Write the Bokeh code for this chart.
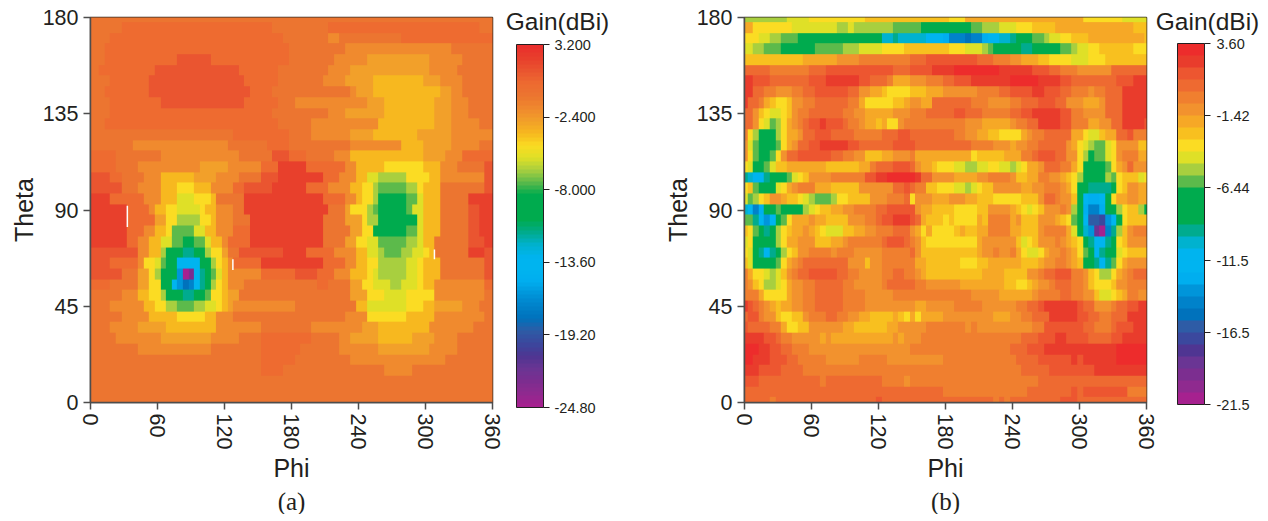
from bokeh.plotting import figure
from bokeh.layouts import row
from bokeh.core.properties import value
from bokeh.models import (AllLabels, ColorBar, FixedTicker, LinearColorMapper, Range1d, Title)
from bokeh.embed import file_html
from bokeh.resources import INLINE
import numpy as np

CODES = "0123456789abcdefghijklmnopqrst"

COLORS_B = ["#ed2c2c", "#e93c2c", "#ed5630", "#ee6a31", "#f07f2f", "#f2922e", "#f6a826", "#f8c01f",
            "#fbdc23", "#dfe027", "#a8cf3f", "#5cba4b", "#00ab4e", "#00ab4e", "#00ab4e", "#00ab8e",
            "#00b2cf", "#00b4ef", "#00b4f0", "#00aeef", "#0095da", "#0082ca", "#0072bc", "#2e5ca6",
            "#3b489e", "#4f3592", "#6a3594", "#7c2e90", "#8f2a8f", "#a6218f"]
COLORS_A = ["#ea2f2d", "#e8402c", "#ea5530", "#ee6b30", "#ec7530", "#f08a2e", "#f2a02a", "#f7b81f",
            "#fbdc23", "#dfe027", "#a8cf3f", "#5cba4b", "#00ab4e", "#00ab4e", "#00ab4e", "#00ab8e",
            "#00b2cf", "#00b4ef", "#00b4f0", "#00aeef", "#0095da", "#0082ca", "#0072bc", "#2e5ca6",
            "#3b489e", "#4f3592", "#6a3594", "#7c2e90", "#8f2a8f", "#a6218f"]

LOW_A, HIGH_A = -24.8, 3.2
LOW_B, HIGH_B = -21.5, 3.6
TICKS_A = [3.2, -2.4, -8.0, -13.6, -19.2, -24.8]
TICK_LABELS_A = ["3.200", "-2.400", "-8.000", "-13.60", "-19.20", "-24.80"]
TICKS_B = [3.6, -1.42, -6.44, -11.5, -16.5, -21.5]
TICK_LABELS_B = ["3.60", "-1.42", "-6.44", "-11.5", "-16.5", "-21.5"]
PHI_TICKS = [0, 60, 120, 180, 240, 300, 360]
THETA_TICKS = [0, 45, 90, 135, 180]

WHITE_PHI = [33, 127.5, 308]
WHITE_THETA_LOW = [82, 62, 67]
WHITE_THETA_HIGH = [92, 67, 71.5]

# Each row: theta from 180 down to 0 in 5 degree steps; "level:last phi" runs of gain level.
ROWS_A = [
"4:360",
"4:27 3:163 4:212 3:345 4:360",
"4:17 3:172 4:212 5:222 4:275 3:360",
"4:12 3:178 4:227 5:323 4:360",
"4:12 3:77 2:107 3:178 4:218 5:248 6:302 5:332 4:360",
"4:7 3:57 2:131 3:167 4:212 5:232 6:302 5:328 4:360",
"4:17 3:52 2:137 3:167 4:206 5:227 6:251 7:297 6:312 5:332 4:360",
"4:12 3:52 2:142 3:160 4:232 5:235 6:251 7:310 6:322 5:332 4:360",
"4:17 3:61 2:137 3:165 4:182 5:246 6:263 7:308 6:322 5:335 4:360",
"4:17 3:163 4:212 5:227 6:263 7:308 6:322 5:335 4:360",
"4:12 3:167 4:197 5:257 7:308 6:323 5:347 4:360",
"4:127 3:178 4:197 5:232 6:252 7:293 6:320 5:360",
"4:37 5:120 4:157 3:178 4:233 5:278 7:297 6:320 5:345 4:360",
"3:22 4:63 5:130 4:160 2:178 3:193 4:215 5:233 7:297 6:316 5:330 3:360",
"3:22 4:43 5:97 6:120 5:150 3:167 1:193 3:226 5:236 7:260 8:297 7:312 5:325 4:350 2:360",
"2:17 3:27 4:45 5:63 7:93 6:111 5:130 4:152 2:167 1:206 3:222 5:236 7:248 9:258 a:282 8:302 7:311 5:350 2:360",
"2:27 4:40 5:60 7:75 8:93 7:107 5:125 3:135 2:160 1:190 3:212 5:233 7:243 8:252 a:258 b:282 a:290 8:299 7:310 4:350 2:360",
"1:18 3:45 5:60 7:78 9:93 8:105 7:112 4:137 1:207 3:225 5:235 7:243 8:252 a:257 d:282 b:290 9:299 7:310 4:335 1:360",
"1:33 3:50 5:57 7:68 8:78 9:95 8:103 7:112 5:125 4:137 1:212 4:227 6:233 8:245 a:252 b:258 d:282 b:288 9:299 7:310 4:335 2:345 1:360",
"1:33 3:57 6:67 8:78 a:96 8:107 7:114 5:125 4:142 1:206 4:227 6:240 8:248 a:255 c:259 d:282 c:291 9:299 7:310 4:335 2:345 1:360",
"1:33 3:48 5:57 7:67 8:73 b:93 9:103 7:111 5:125 3:142 1:207 4:232 6:240 8:250 c:258 d:282 b:291 9:299 7:310 4:335 2:345 1:360",
"1:33 3:42 5:52 7:62 9:72 b:82 d:93 b:102 9:108 7:115 5:122 3:142 1:207 4:227 6:237 8:245 9:255 b:282 a:290 9:299 7:308 4:335 2:350 1:360",
"2:40 5:52 7:62 a:67 d:82 f:93 d:103 a:108 8:116 6:122 4:133 2:170 1:190 3:215 5:235 7:245 9:257 a:262 b:278 a:287 9:295 8:302 7:308 4:335 1:350 2:360",
"2:18 3:40 5:48 8:57 9:62 b:67 d:77 h:97 d:107 a:112 8:117 7:122 5:128 3:152 1:207 3:225 5:238 7:248 8:257 a:282 9:290 8:299 7:310 4:350 2:360",
"2:25 4:42 6:52 8:57 a:62 c:72 d:77 k:82 t:87 r:93 h:97 f:102 d:107 b:112 9:117 7:122 5:150 3:180 2:203 3:217 5:232 7:247 8:252 9:257 a:282 9:290 8:299 7:310 4:350 2:360",
"3:18 4:42 6:52 8:62 c:67 d:72 h:77 k:82 m:87 l:93 h:97 f:102 d:107 a:112 8:117 7:122 5:137 4:200 3:213 4:232 6:243 8:253 9:266 a:278 9:290 8:299 7:306 5:350 3:360",
"4:27 5:43 7:52 8:62 a:67 d:82 f:93 d:103 b:108 8:117 7:122 6:132 4:230 6:248 8:263 9:282 8:308 5:350 4:360",
"4:18 5:48 7:57 8:67 a:77 b:93 a:102 9:112 8:117 7:122 6:128 5:180 4:237 7:248 9:282 8:299 7:308 6:330 5:345 4:360",
"4:27 5:52 7:78 8:100 7:112 5:127 4:225 5:248 8:282 7:308 5:350 4:360",
"4:18 5:42 6:67 7:112 5:150 4:197 5:240 6:255 7:302 5:340 4:360",
"4:22 5:60 6:107 5:130 4:152 3:197 4:222 5:232 6:257 7:287 6:308 5:328 4:360",
"4:42 5:107 4:152 3:188 4:222 5:257 6:302 5:327 4:360",
"4:152 3:182 4:233 5:318 4:360",
"4:152 3:172 4:263 5:287 4:360",
"4:360",
"4:360",
"4:360",
]

ROWS_B = [
"a:38 9:58 8:107 7:183 8:198 6:301 8:338 9:360",
"6:7 8:42 9:82 a:93 9:96 a:132 b:158 d:202 b:212 a:228 9:243 8:257 7:277 6:347 7:360",
"8:12 9:22 a:32 b:47 d:122 g:132 f:138 g:162 i:177 j:183 l:197 m:202 l:212 j:217 i:228 g:237 f:242 d:257 b:267 a:272 9:282 8:292 7:307 6:358 7:360",
"9:7 a:17 b:32 d:63 b:87 a:102 9:122 8:143 7:183 8:197 9:212 a:217 b:222 d:247 f:257 d:282 b:292 a:297 9:307 8:317 7:347 8:360",
"7:53 6:82 5:102 4:147 3:162 2:207 3:222 4:237 5:247 6:262 7:272 8:292 9:307 8:322 7:360",
"3:22 4:57 3:72 2:132 3:147 2:167 1:187 0:227 1:257 2:272 3:282 4:297 5:327 3:360",
"1:7 2:22 3:57 2:73 1:102 2:112 3:127 4:132 6:147 5:162 4:177 3:187 2:202 1:237 0:262 1:282 2:292 3:332 2:347 1:360",
"1:7 3:17 4:28 5:42 4:52 3:63 2:92 3:102 5:112 6:122 7:127 8:147 7:162 6:177 5:207 4:228 3:237 2:257 1:267 2:282 3:292 4:307 5:312 4:322 3:337 1:360",
"1:3 3:13 4:17 6:22 7:28 8:37 7:42 5:52 4:63 3:92 4:102 6:107 8:132 7:143 6:147 5:158 6:167 3:202 4:217 5:237 4:247 3:262 2:277 3:287 5:302 6:317 5:322 3:337 1:360",
"3:7 5:13 7:17 8:22 9:32 8:37 7:42 5:47 4:57 3:87 4:97 5:107 6:132 5:147 4:162 3:187 2:197 3:212 4:237 3:247 2:258 1:282 2:292 4:302 5:322 3:337 1:360",
"3:7 5:12 8:17 9:22 b:28 a:32 8:37 6:42 5:47 4:52 3:57 2:67 1:73 2:87 3:92 4:102 5:107 6:117 7:122 6:127 8:137 5:143 4:197 5:212 6:237 5:243 4:252 3:262 1:282 2:292 4:307 6:317 5:327 3:337 1:357 2:360",
"4:3 8:7 a:12 d:28 a:32 8:37 6:47 5:52 3:63 2:77 3:97 4:122 3:137 2:147 3:187 4:197 5:207 6:217 7:228 8:247 6:252 5:257 4:267 3:292 6:302 8:307 9:317 7:322 6:332 3:342 2:347 4:360",
"5:3 9:7 b:12 d:28 b:32 8:37 6:42 5:47 3:57 2:68 1:92 2:102 3:132 2:152 3:202 4:222 5:237 6:242 5:252 4:262 3:287 5:292 6:297 8:302 9:307 a:311 b:322 9:327 8:332 5:352 7:360",
"5:3 8:7 b:12 d:22 b:27 8:32 5:37 3:47 2:77 3:87 4:97 5:107 7:122 6:132 5:147 4:152 6:202 8:207 7:232 6:247 4:257 3:262 2:277 3:287 5:297 8:302 a:307 c:311 b:322 9:327 8:332 5:337 4:352 6:360",
"8:3 9:7 d:17 b:22 9:28 7:37 6:73 7:102 6:113 4:117 3:132 2:147 3:152 5:158 6:167 7:172 8:187 9:197 a:207 9:217 8:228 9:237 a:242 9:247 8:252 6:262 5:267 3:282 4:292 6:297 8:302 d:322 b:327 8:332 6:337 5:342 3:347 5:360",
"f:3 g:7 i:17 f:22 d:37 b:42 9:47 8:52 7:57 5:77 4:107 2:117 1:127 0:152 1:157 3:167 5:187 6:207 5:217 4:237 5:242 7:252 6:262 4:272 5:282 6:287 7:292 8:297 a:302 d:322 a:327 b:332 8:337 7:352 9:358 8:360",
"8:3 7:5 b:12 d:28 9:32 8:37 6:42 5:47 4:63 6:77 7:102 5:132 3:142 2:147 3:152 4:162 7:172 8:187 9:197 a:202 9:207 8:212 7:222 5:247 6:257 5:267 4:282 5:287 6:292 8:297 d:307 f:327 d:332 8:337 7:342 5:352 6:360",
"9:3 b:7 a:12 8:17 7:22 5:32 6:37 7:47 8:52 9:57 a:63 b:77 a:82 8:92 7:113 5:127 4:143 3:147 8:152 5:167 6:182 5:197 6:207 7:222 8:247 7:262 5:267 3:277 4:282 5:292 7:297 d:302 i:307 j:317 i:322 d:327 8:332 6:342 5:352 6:360",
"g:3 i:7 l:12 j:17 d:27 b:32 d:53 a:57 9:63 8:67 7:77 6:87 5:97 4:117 3:127 2:152 5:158 6:167 7:187 8:207 7:217 5:237 6:242 7:247 8:252 9:257 8:262 7:267 5:282 4:287 5:292 a:297 d:302 j:307 l:317 j:322 d:332 a:337 8:342 7:352 a:358 d:360",
"b:5 f:12 h:17 k:22 i:27 d:32 b:37 8:42 6:57 5:62 6:72 7:92 5:107 4:117 3:122 2:132 1:147 2:152 3:157 6:162 7:177 8:182 7:187 8:207 6:212 7:217 4:237 6:242 5:247 7:262 5:277 6:282 7:287 8:292 b:297 d:302 i:307 n:317 o:322 k:327 i:332 d:337 8:342 7:360",
"7:3 8:7 b:12 d:17 f:22 d:28 a:32 8:37 7:42 6:52 5:57 6:62 7:67 8:72 9:87 7:97 6:107 5:117 4:132 3:147 5:152 6:157 8:162 6:167 8:187 7:192 6:197 7:207 6:217 4:237 6:247 7:262 5:267 4:287 6:292 9:297 d:302 g:307 k:312 q:317 t:322 l:327 f:332 a:337 7:342 5:347 4:360",
"9:3 8:7 d:28 a:32 8:37 6:47 5:62 7:77 6:87 5:92 4:122 3:127 2:142 3:147 4:152 5:157 7:162 8:207 6:212 5:242 7:247 9:252 8:257 7:262 5:277 4:282 5:287 6:292 7:297 8:302 d:307 f:312 i:322 f:327 d:332 8:337 7:342 5:360",
"8:3 9:7 d:12 f:17 i:22 f:27 d:32 a:37 8:42 7:47 5:57 4:77 5:82 4:97 5:122 4:147 3:152 5:157 7:207 6:212 5:222 4:227 5:237 4:242 6:247 8:252 9:262 8:267 6:272 5:282 4:287 5:292 6:297 8:302 b:307 d:312 h:317 f:322 d:332 9:337 8:342 7:360",
"7:3 9:7 d:28 b:32 8:37 6:42 5:47 4:52 3:92 5:107 7:112 5:122 4:152 6:162 7:192 8:207 7:217 6:247 7:262 6:267 5:277 4:287 5:292 6:297 7:302 d:312 f:317 h:322 f:327 b:332 8:337 6:342 5:360",
"4:3 6:7 8:17 9:22 a:28 9:32 7:37 5:42 4:47 3:57 2:82 3:92 4:102 5:122 4:132 3:142 4:152 5:157 6:162 7:212 6:232 7:252 5:262 4:267 3:277 2:292 4:302 5:307 7:312 8:317 a:327 8:332 6:337 5:342 4:347 3:360",
"4:3 5:7 7:12 8:17 a:28 9:32 8:37 6:42 5:52 4:62 3:87 4:97 5:122 4:127 3:152 4:162 5:192 6:232 7:242 8:252 7:257 6:262 5:272 4:277 3:292 4:302 5:307 7:312 8:327 7:332 5:342 4:360",
"4:12 6:17 8:37 6:42 5:52 4:62 3:87 4:107 5:132 4:202 5:227 6:257 5:262 4:282 3:292 4:302 5:312 7:317 9:327 8:332 7:337 6:342 4:352 5:360",
"1:3 2:7 3:12 4:17 5:22 6:28 7:32 6:42 5:52 4:62 3:87 4:107 5:152 6:162 5:187 4:212 5:242 4:252 3:262 2:267 1:297 2:302 3:312 5:327 4:332 3:342 2:352 1:360",
"3:3 2:12 4:17 5:28 7:32 8:42 7:52 5:57 4:72 3:82 4:92 5:102 6:112 7:132 6:137 7:142 8:147 6:152 8:157 6:177 5:222 6:237 5:247 4:257 3:272 1:297 2:307 3:317 4:327 3:342 1:360",
"2:3 3:22 4:32 6:37 8:47 7:57 5:87 6:97 7:127 6:137 5:162 4:197 5:202 4:207 5:257 4:267 2:302 3:312 4:327 3:332 2:347 1:360",
"1:17 2:28 3:32 4:42 5:67 6:72 5:77 6:132 5:137 6:142 5:157 4:247 3:262 2:277 1:287 2:307 3:327 2:337 1:360",
"0:12 1:22 2:32 3:42 4:57 5:147 4:237 3:252 2:267 1:332 0:360",
"0:7 1:22 2:37 3:47 4:73 5:102 4:127 5:177 4:242 3:262 2:292 1:297 2:302 1:332 0:360",
"1:12 2:32 3:53 4:247 3:272 2:312 1:360",
"2:12 3:67 4:72 3:122 4:142 5:147 4:262 3:360",
"3:177 4:252 3:292 2:297 3:302 2:342 4:360",
"3:22 4:27 3:117 2:122 3:222 4:227 3:232 4:237 3:282 2:297 3:360",
]


def gain_grid(rows, low, high):
    step = (high - low) / len(CODES)
    grid = np.zeros((len(rows), 73))
    for r, text in enumerate(rows):
        runs = [(CODES.index(s.split(":")[0]), float(s.split(":")[1])) for s in text.split()]
        for c in range(73):
            lvl = next(l for l, end in runs if end >= 5 * c)
            grid[r, c] = high - (lvl + 0.5) * step
    return grid[::-1]


def mix(colors, n):
    rgb = np.array([[int(c[i:i + 2], 16) for i in (1, 3, 5)] for c in colors], float)
    pos = np.linspace(0, len(colors) - 1, n)
    out = [np.interp(pos, np.arange(len(colors)), rgb[:, k]) for k in range(3)]
    return ["#%02x%02x%02x" % (int(a), int(b), int(d)) for a, b, d in zip(*out)]


def panel(rows, colors, low, high, tag, left, right, margin_left, white=None):
    p = figure(frame_width=402, frame_height=385, width=left + 402 + right, height=505,
               x_range=Range1d(0, 360), y_range=Range1d(0, 180),
               min_border_left=left, min_border_right=right, min_border_top=17, min_border_bottom=0,
               toolbar_location=None, output_backend="svg", background_fill_color="white",
               margin=(0, 0, 0, margin_left))
    p.grid.visible = False
    mapper = LinearColorMapper(palette=colors[::-1], low=low, high=high)
    p.image(image=[gain_grid(rows, low, high)], x=-2.5, y=-2.5, dw=365, dh=185, color_mapper=mapper)
    if white:
        p.segment(x0=white[0], x1=white[0], y0=white[1], y1=white[2], line_color="white", line_width=1.5)
    p.outline_line_color = "#332b22"
    p.outline_line_width = 1.5
    for ax, name, tk in ((p.xaxis[0], "Phi", PHI_TICKS), (p.yaxis[0], "Theta", THETA_TICKS)):
        ax.axis_label = name
        ax.axis_label_text_font = "Liberation Sans"
        ax.axis_label_text_font_size = "25px"
        ax.axis_label_text_font_style = "normal"
        ax.axis_label_text_color = "#231f20"
        ax.major_label_text_font = "Liberation Sans"
        ax.major_label_text_font_size = "21.5px"
        ax.major_label_text_color = "#231f20"
        ax.ticker = FixedTicker(ticks=tk)
        ax.major_tick_in = 0
        ax.major_tick_out = 7
        ax.minor_tick_line_color = None
        ax.axis_line_color = "#4d4d4d"
        ax.axis_line_width = 1.5
        ax.major_tick_line_color = "#4d4d4d"
        ax.major_tick_line_width = 1.5
    p.xaxis[0].major_label_orientation = "vertical"
    p.xaxis[0].major_label_standoff = 4
    p.xaxis[0].axis_label_standoff = 2
    p.yaxis[0].major_label_standoff = 5
    p.yaxis[0].axis_label_standoff = 2
    p.add_layout(Title(text=tag, align="center", text_font="Liberation Serif", text_font_size="25px",
                       text_font_style="normal", text_color="#231f20", standoff=0), "below")
    return p


def legend(colors, low, high, ticks, labels, width, text_x, bar_x, bar_y, bar_h, fine, standoff):
    q = figure(frame_width=width, frame_height=505, width=width, height=505,
               x_range=Range1d(0, width), y_range=Range1d(505, 0),
               x_axis_location=None, y_axis_location=None, margin=(-18, 0, 0, 0),
               min_border=0, toolbar_location=None, output_backend="svg", outline_line_color=None)
    q.grid.visible = False
    q.text(x=[text_x], y=[22], text=["Gain(dBi)"], text_align="center", text_baseline="middle",
           text_font=value("Liberation Sans"), text_font_size="24.5px", text_color="#231f20")
    bar_mapper = LinearColorMapper(palette=mix(colors, fine)[::-1], low=low, high=high)
    cb = ColorBar(color_mapper=bar_mapper, ticker=FixedTicker(ticks=ticks),
                  major_label_overrides={t: s for t, s in zip(ticks, labels)},
                  major_label_policy=AllLabels(), orientation="vertical",
                  width=27, height=bar_h, location=(bar_x, bar_y), padding=0, margin=0,
                  major_tick_in=0, major_tick_out=6, major_tick_line_color="#231f20",
                  bar_line_color="#231f20", bar_line_width=1,
                  major_label_text_font="Liberation Sans", major_label_text_font_size="14.5px",
                  major_label_text_color="#231f20", label_standoff=standoff,
                  minor_tick_line_color=None, background_fill_color=None, border_line_color=None)
    q.add_layout(cb)
    return q


a = panel(ROWS_A, COLORS_A, LOW_A, HIGH_A, "(a)", 76, 12, 6,
          white=(WHITE_PHI, WHITE_THETA_LOW, WHITE_THETA_HIGH))
la = legend(COLORS_A, LOW_A, HIGH_A, TICKS_A, TICK_LABELS_A, 156, 53, 12, 97, 363, 90, 5)
b = panel(ROWS_B, COLORS_B, LOW_B, HIGH_B, "(b)", 76, 9, 0)
lb = legend(COLORS_B, LOW_B, HIGH_B, TICKS_B, TICK_LABELS_B, 105, 52, 22, 100, 361, 30, 6)
page = row(a, la, b, lb, spacing=0)
open("out.html", "w").write(file_html(page, INLINE))
